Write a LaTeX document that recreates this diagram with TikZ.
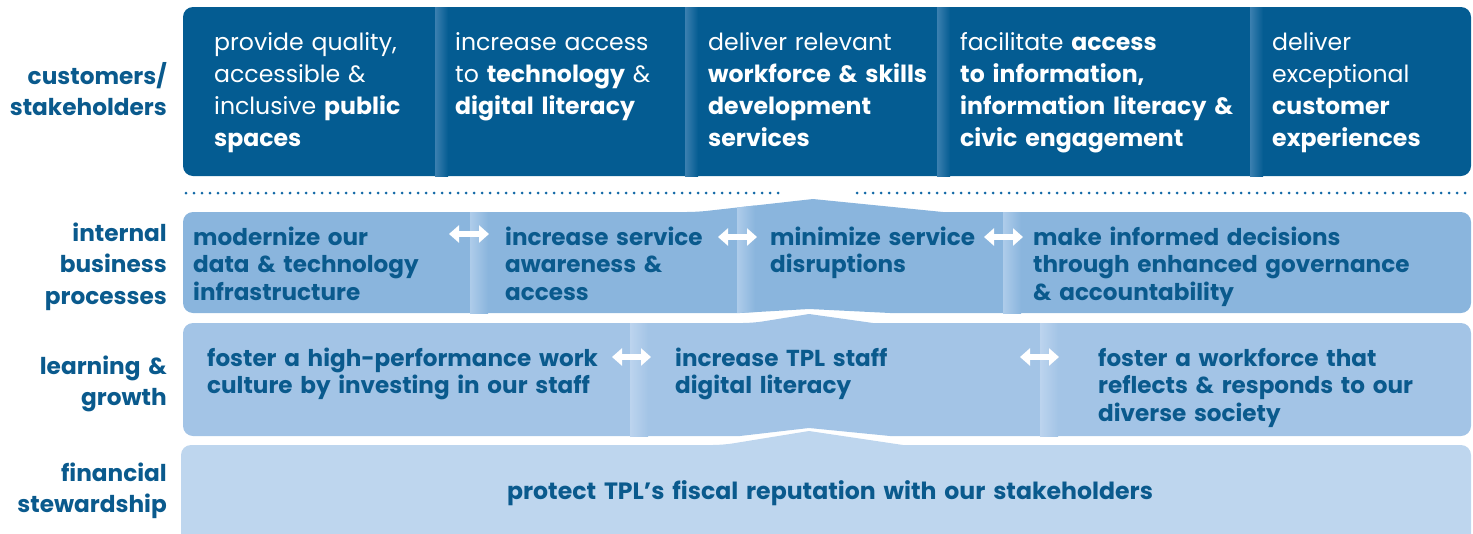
\documentclass[tikz,border=0pt]{standalone}
\usepackage{fontspec}
\setmainfont{Poppins}
\usepackage{xcolor}
\usetikzlibrary{arrows.meta,positioning,calc}
\definecolor{tpldark}{HTML}{045C92}
\definecolor{tplstrip}{HTML}{3B80B0}
\definecolor{tpltext}{HTML}{0A5A8D}
\definecolor{procblue}{HTML}{8AB5DD}
\definecolor{procstrip}{HTML}{AECCEA}
\definecolor{learnblue}{HTML}{A3C4E6}
\definecolor{learnstrip}{HTML}{BCD4EE}
\definecolor{finblue}{HTML}{BED6EE}
\definecolor{dotblue}{HTML}{1268A6}
\tikzset{
  rowlabel/.style = {anchor = base east, align = right, text width = 170pt, inner sep = 0pt,
                     text = tpltext, font = \fontsize{23.2}{31.5}\selectfont\bfseries},
  custtext/.style = {anchor = base west, align = left, text width = 300pt, inner sep = 0pt,
                     text = white, font = \fontsize{23.6}{32}\selectfont},
  goaltext/.style = {anchor = base west, align = left, text width = 420pt, inner sep = 0pt,
                     text = tpltext, font = \fontsize{23.1}{27.5}\selectfont\bfseries},
  fatarrow/.style = {white, line width = 6pt,
                     {Triangle[width = 17pt, length = 10pt]}-{Triangle[width = 17pt, length = 10pt]}}
}

\begin{document}
\begin{tikzpicture}[x = 1pt, y = -1pt]
  \useasboundingbox (0,0) rectangle (1473,533);
  \clip (0,0) rectangle (1473,533);
    % customers band
    \fill[tpldark, rounded corners = 10pt] (183,7) rectangle (1471,176);
    \foreach \sx in {435,685,937,1250}
      \shade[left color = tplstrip, right color = tpldark] (\sx,7) rectangle (\sx+13,176);
    \draw[dotblue, line width = 3pt, line cap = round, dash pattern = on 0pt off 8pt] (186,193) -- (780,193);
    \draw[dotblue, line width = 3pt, line cap = round, dash pattern = on 0pt off 8pt] (857,193) -- (1471,193);
    % internal business processes band
    \fill[procblue] [rounded corners = 10pt] (183,262) -- (183,212) -- (697,212) [sharp corners] -- (813,199)
      -- (943,212) [rounded corners = 10pt] -- (1471,212) -- (1471,313) [sharp corners] -- (890,313) -- (809,309)
      -- (740,313) [rounded corners = 10pt] -- (183,313) -- cycle;
    \shade[left color = procstrip, right color = procblue] (470,212) rectangle (488,313);
    \shade[left color = procstrip, right color = procblue] (737,207.5) -- (755,205.5) -- (755,312) -- (737,313) -- cycle;
    \shade[left color = procstrip, right color = procblue] (1003,212) rectangle (1021,313);
    % learning and growth band
    \fill[learnblue] [rounded corners = 10pt] (183,380) -- (183,323) -- (753,323) [sharp corners] -- (809,314)
      -- (873,323) [rounded corners = 10pt] -- (1471,323) -- (1471,436) [sharp corners] -- (890,436) -- (809,428)
      -- (740,436) [rounded corners = 10pt] -- (183,436) -- cycle;
    \shade[left color = learnstrip, right color = learnblue] (630,323) rectangle (648,436);
    \shade[left color = learnstrip, right color = learnblue] (1040,323) rectangle (1058,436);
    % financial stewardship band
    \fill[finblue] [rounded corners = 10pt] (181,500) -- (181,445) -- (723,445) [sharp corners] -- (809,431)
      -- (903,445) [rounded corners = 10pt] -- (1471,445) -- (1471,560) -- (181,560) -- cycle;
    % Labels
    \node[rowlabel] (lcust) at (167,84) {customers/\\stakeholders};
    \node[rowlabel] (lproc) at (167,241) {internal\\business\\processes};
    \node[rowlabel] (llearn) at (167,374) {learning \&\\growth};
    \node[rowlabel] (lfin) at (167,481) {financial\\stewardship};
    % customer goals
    \node[custtext] (c1) at (214,50) {provide quality,\\accessible \&\\inclusive \textbf{public}\\\textbf{spaces}};
    \node[custtext] (c2) at (455,50) {increase access\\to \textbf{technology} \&\\\textbf{digital literacy}};
    \node[custtext] (c3) at (708,50) {deliver relevant\\\textbf{workforce \& skills}\\\textbf{development}\\\textbf{services}};
    \node[custtext] (c4) at (960,50) {facilitate \textbf{access}\\\textbf{to information,}\\\textbf{information literacy \&}\\\textbf{civic engagement}};
    \node[custtext] (c5) at (1272,50) {deliver\\exceptional\\\textbf{customer}\\\textbf{experiences}};
    % process goals
    \node[goaltext] (p1) at (193,245) {modernize our\\data \& technology\\infrastructure};
    \node[goaltext] (p2) at (505,245) {increase service\\awareness \&\\access};
    \node[goaltext] (p3) at (770,245) {minimize service\\disruptions};
    \node[goaltext] (p4) at (1033,245) {make informed decisions\\through enhanced governance\\\& accountability};
    % learning goals
    \node[goaltext] (g1) at (207,366) {foster a high-performance work\\culture by investing in our staff};
    \node[goaltext] (g2) at (675,366) {increase TPL staff\\digital literacy};
    \node[goaltext] (g3) at (1098,366) {foster a workforce that\\reflects \& responds to our\\diverse society};
    % financial goal
    \node[goaltext, anchor = base, align = center, text width = 800pt,
          font = \fontsize{23.6}{27.5}\selectfont\bfseries] (f1) at (830,499) {protect TPL’s fiscal reputation with our stakeholders};
    % arrows between goals
    \coordinate (pa1l) at (449,234);  \coordinate (pa1r) at (489,234);
    \coordinate (pa2l) at (718,237);  \coordinate (pa2r) at (757,237);
    \coordinate (pa3l) at (984,237);  \coordinate (pa3r) at (1023,237);
    \coordinate (ga1l) at (612,357);  \coordinate (ga1r) at (651,357);
    \coordinate (ga2l) at (1020,357); \coordinate (ga2r) at (1059,357);
    \draw[fatarrow] (pa1l) -- (pa1r);
    \draw[fatarrow] (pa2l) -- (pa2r);
    \draw[fatarrow] (pa3l) -- (pa3r);
    \draw[fatarrow] (ga1l) -- (ga1r);
    \draw[fatarrow] (ga2l) -- (ga2r);
\end{tikzpicture}
\end{document}
